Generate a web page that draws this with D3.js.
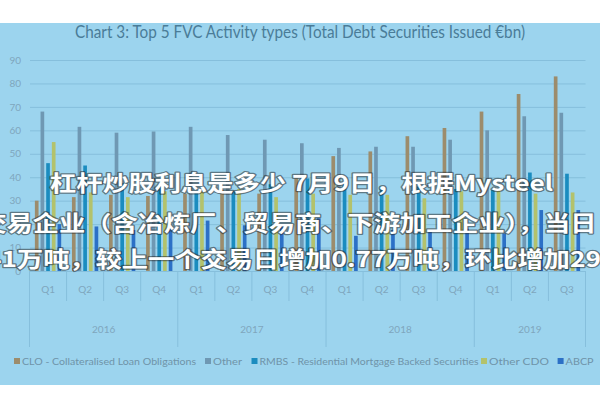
<!DOCTYPE html>
<html><head><meta charset="utf-8">
<script src="https://cdn.jsdelivr.net/npm/d3@7"></script>
<style>body{margin:0;background:#fff}svg{display:block}</style>
</head><body>
<script>
const years = ["2016","2017","2018","2019"];
const quarterLabels = ["Q1","Q2","Q3","Q4"];
const periods = [
  "2016 Q1","2016 Q2","2016 Q3","2016 Q4",
  "2017 Q1","2017 Q2","2017 Q3","2017 Q4",
  "2018 Q1","2018 Q2","2018 Q3","2018 Q4",
  "2019 Q1","2019 Q2","2019 Q3"];
const seriesNames = ["CLO - Collateralised Loan Obligations","Other","RMBS - Residential Mortgage Backed Securities","Other CDO","ABCP"];
const cloValues      = [30, 31.5, 32.5, 32, 33, 34.5, 33, 39.5, 49, 51, 57.5, 61, 68, 75.5, 83];
const otherValues    = [68, 61.5, 59, 59.5, 61.5, 58, 56, 54.5, 52.5, 53, 53, 56, 60, 66, 67.5];
const rmbsValues     = [46, 45, 37.5, 36, 34, 34, 37, 39.5, 37.5, 36, 36, 35, 34.5, 42, 41.5];
const otherCdoValues = [55, 33.5, 31.5, 34, 34, 35, 31.5, 33, 32.5, 32.5, 31, 34, 34.5, 33, 33.5];
const abcpValues     = [20, 19, 17.5, 19, 21.5, 19.5, 19, 22.5, 15, 17.5, 17, 18, 16, 26, 26];
const yTicks = [0,10,20,30,40,50,60,70,80,90];
const titleText = "Chart 3: Top 5 FVC Activity types (Total Debt Securities Issued €bn)";
const overlayLines = [
  "杠杆炒股利息是多少 7月9日，根据Mysteel",
  "交易企业（含冶炼厂、贸易商、下游加工企业），当日",
  "41万吨，较上一个交易日增加0.77万吨，环比增加29"
];

const colors = ["#9c8c6c","#6f98b3","#1b8cbf","#b3c26c","#2c70c6"];
const allSeries = [cloValues, otherValues, rmbsValues, otherCdoValues, abcpValues];

const W = 600, H = 400;
const svg = d3.select("body").append("svg").attr("width", W).attr("height", H);
svg.append("rect").attr("width", W).attr("height", H).attr("fill", "#fff");
svg.append("rect").attr("x", 0).attr("y", 23).attr("width", W).attr("height", 362).attr("fill", "#9cd4ee");

const plotL = 29.5, plotR = 585.5, gridL = 30;
const y = d3.scaleLinear().domain([0, 90]).range([271, 60]);
const x0 = d3.scaleBand().domain(periods).range([plotL, plotR]).padding(0);
const x1 = d3.scaleBand().domain(d3.range(5)).range([0, x0.bandwidth()]).paddingInner(0.35).paddingOuter(0.95);

// title
svg.append("text").attr("x", 300).attr("y", 38).attr("text-anchor", "middle")
  .attr("font-family", "Lato, 'Open Sans', sans-serif").attr("font-size", 18)
  .attr("fill", "#4a7c98").attr("textLength", 450).attr("lengthAdjust", "spacingAndGlyphs")
  .text(titleText);

// y axis + grid
const yAxis = svg.append("g").attr("transform", `translate(${gridL},0)`)
  .call(d3.axisLeft(y).tickValues(yTicks).tickSize(-(plotR - gridL)).tickPadding(9));
yAxis.select(".domain").remove();
yAxis.selectAll(".tick line").attr("stroke", "#86bfdc").attr("stroke-width", 1);
yAxis.selectAll(".tick text").attr("fill", "#7fa6bd").attr("font-size", 10)
  .attr("font-family", "Lato, sans-serif");

// bars
const g = svg.append("g");
periods.forEach((p, i) => {
  const grp = g.append("g").attr("transform", `translate(${x0(p)},0)`);
  allSeries.forEach((vals, s) => {
    grp.append("rect").attr("x", x1(s)).attr("width", x1.bandwidth())
      .attr("y", y(vals[i])).attr("height", y(0) - y(vals[i])).attr("fill", colors[s]);
  });
});

// x axis
const xAxis = svg.append("g").attr("transform", `translate(0,${y(0)})`)
  .call(d3.axisBottom(x0).tickSize(0).tickPadding(15).tickFormat(d => d.split(" ")[1]));
xAxis.select(".domain").attr("stroke", "#86bfdc");
xAxis.selectAll(".tick text").attr("fill", "#7fa6bd").attr("font-size", 10)
  .attr("font-family", "Lato, sans-serif");
const sepColor = "#86bfdc";
periods.forEach((p, i) => {
  const isYear = p.endsWith("Q1");
  svg.append("line").attr("x1", x0(p)).attr("x2", x0(p)).attr("y1", y(0))
    .attr("y2", isYear ? 347 : 301).attr("stroke", sepColor);
});
svg.append("line").attr("x1", plotR).attr("x2", plotR).attr("y1", y(0)).attr("y2", 347).attr("stroke", sepColor);
years.forEach(yr => {
  const ps = periods.filter(p => p.startsWith(yr));
  const a = x0(ps[0]), b = x0(ps[ps.length - 1]) + x0.bandwidth();
  svg.append("text").attr("x", (a + b) / 2).attr("y", 333).attr("text-anchor", "middle")
    .attr("fill", "#7fa6bd").attr("font-size", 10).attr("font-family", "Lato, sans-serif").text(yr);
});

// legend
const legendPos = [[17, 174], [208, 29], [254.5, 219], [484, 60], [560.6, 28]];
seriesNames.forEach((name, s) => {
  const [mx, len] = legendPos[s];
  svg.append("rect").attr("x", mx - 3).attr("y", 358).attr("width", 6).attr("height", 6).attr("fill", colors[s]);
  svg.append("text").attr("x", mx + 5).attr("y", 365).attr("font-size", 10)
    .attr("font-family", "Lato, sans-serif").attr("fill", "#6f93a8")
    .attr("textLength", len).attr("lengthAdjust", "spacingAndGlyphs").text(name);
});

// overlay text
const ov = svg.append("g").attr("font-family", "'Noto Sans CJK SC', sans-serif")
  .attr("font-weight", "bold").attr("font-size", 21.5);
const ovPos = [[50, 191], [-19.6, 231], [-14, 267]];
overlayLines.forEach((t, i) => {
  const [ox, oy] = ovPos[i];
  ov.append("text").attr("transform", `translate(${ox},${oy}) scale(1.22,1)`)
    .attr("fill", "#ffffff").attr("stroke", "rgba(40,40,40,0.55)").attr("stroke-width", 2.5)
    .attr("paint-order", "stroke").attr("stroke-linejoin", "round").text(t);
});
</script>
</body></html>
